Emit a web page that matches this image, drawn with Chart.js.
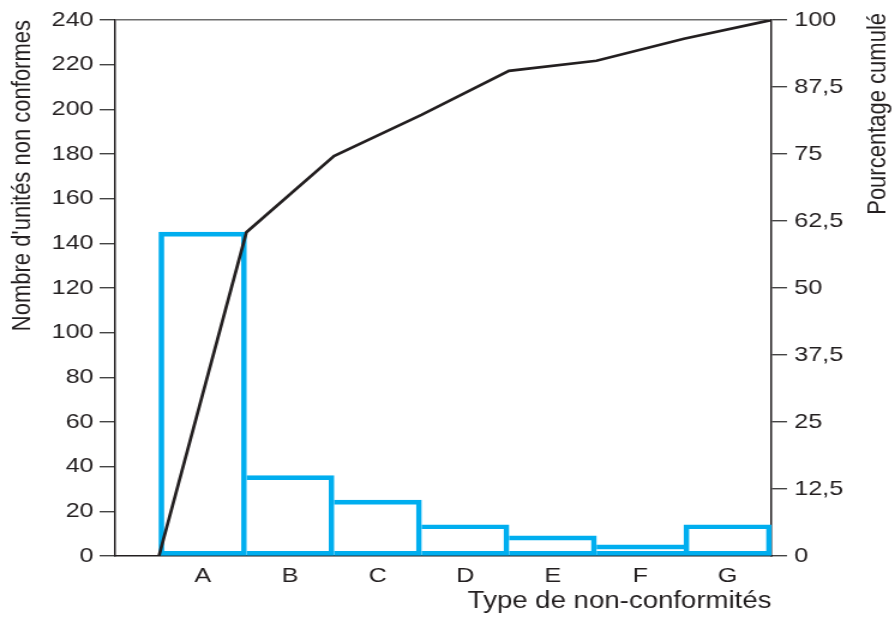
<!DOCTYPE html>
<html>
<head>
<meta charset="utf-8">
<title>Pareto des non-conformités</title>
<script src="https://cdn.jsdelivr.net/npm/chart.js@4.4.1/dist/chart.umd.min.js"></script>
<style>
    html, body { margin: 0; padding: 0; background: #fff; overflow: hidden; }
</style>
</head>
<body>
<!-- the original figure is stretched sideways, so the canvas is drawn narrower and widened by CSS -->
<canvas id="paretoChart" width="746" height="617" style="width:895px;height:617px;display:block"></canvas>
<script>
var categories = ['A', 'B', 'C', 'D', 'E', 'F', 'G'];
var nonConformes = [145, 36, 25, 14, 9, 5, 14];
// pourcentage cumulé, lu aux bords des barres (0 au bord gauche de A)
var cumulPct = [0, 60.4, 74.6, 82.3, 90.5, 92.4, 96.5, 100];
var countTicks = [0, 20, 40, 60, 80, 100, 120, 140, 160, 180, 200, 220, 240];
var pctTicks = [0, 12.5, 25, 37.5, 50, 62.5, 75, 87.5, 100];

var inkColor = '#231f20';
var barColor = '#00aeef';
var fontFamily = '"Liberation Sans", Arial, Helvetica, sans-serif';

Chart.defaults.font.family = fontFamily;
Chart.defaults.color = inkColor;

// titre de l'axe droit, lu de bas en haut comme dans la figure
var rightTitle = {
    id: 'rightTitle',
    afterDraw: function (chart) {
        var c = chart.ctx;
        c.save();
        c.translate(chart.width - 14, chart.chartArea.top - 7);
        c.rotate(-Math.PI / 2);
        c.font = '22px ' + fontFamily;
        c.fillStyle = inkColor;
        c.textAlign = 'right';
        c.textBaseline = 'middle';
        c.fillText('Pourcentage cumulé', 0, 0);
        c.restore();
    }
};

var barData = nonConformes.map(function (v, i) {
    return { x: i + 1, y: v };
});
var lineData = cumulPct.map(function (v, i) {
    return { x: i + 0.5, y: v };
});

// un seul trait entre deux barres voisines : celui de la plus haute
function barBorder(ctx) {
    var i = ctx.dataIndex;
    var v = nonConformes;
    var w = 4;
    if (i === undefined) return w;
    return {
        top: w,
        bottom: w,
        left: (i === 0 || v[i] > v[i - 1]) ? w : 0,
        right: (i === v.length - 1 || v[i] >= v[i + 1]) ? w : 0
    };
}

var ctx = document.getElementById('paretoChart').getContext('2d');

var paretoChart = new Chart(ctx, {
    data: {
        datasets: [{
            type: 'line',
            data: lineData,
            xAxisID: 'x',
            yAxisID: 'y2',
            borderColor: inkColor,
            borderWidth: 2.7,
            pointRadius: 0,
            tension: 0,
            order: 0
        }, {
            type: 'bar',
            data: barData,
            xAxisID: 'x',
            yAxisID: 'y',
            backgroundColor: 'transparent',
            borderColor: barColor,
            borderWidth: barBorder,
            borderSkipped: false,
            barPercentage: 1,
            categoryPercentage: 1,
            order: 1
        }]
    },
    plugins: [rightTitle],
    options: {
        responsive: false,
        animation: false,
        layout: { padding: { top: 20, left: 0, right: 0, bottom: 0 } },
        plugins: {
            legend: { display: false },
            tooltip: { enabled: false }
        },
        scales: {
            x: {
                type: 'linear',
                min: 0,
                max: 7.5,
                offset: false,
                afterBuildTicks: function (scale) {
                    scale.ticks = categories.map(function (c, i) {
                        return { value: i + 1 };
                    });
                },
                afterFit: function (scale) { scale.height = 61; },
                ticks: {
                    autoSkip: false,
                    maxRotation: 0,
                    padding: 0,
                    font: { size: 21 },
                    callback: function (value) { return categories[value - 1]; }
                },
                grid: { display: false },
                border: { display: true, color: inkColor, width: 1.6 },
                title: {
                    display: true,
                    text: 'Type de non-conformités',
                    align: 'end',
                    font: { size: 23 },
                    padding: { top: 0, bottom: 2 }
                }
            },
            y: {
                position: 'left',
                min: 0,
                max: 240,
                afterBuildTicks: function (scale) {
                    scale.ticks = countTicks.map(function (v) { return { value: v }; });
                },
                afterFit: function (scale) { scale.width = 96; },
                ticks: { padding: 5, font: { size: 21 } },
                grid: {
                    drawOnChartArea: true,
                    color: function (c) {
                        return c.tick && c.tick.value === 240 ? '#6d6d6d' : 'transparent';
                    },
                    tickColor: '#444',
                    tickLength: 13,
                    lineWidth: 1.4
                },
                border: { display: true, color: inkColor, width: 1.5 },
                title: {
                    display: true,
                    text: "Nombre d'unités non conformes",
                    align: 'end',
                    font: { size: 22 },
                    padding: { top: 6, bottom: 0 }
                }
            },
            y2: {
                position: 'right',
                min: 0,
                max: 100,
                afterBuildTicks: function (scale) {
                    scale.ticks = pctTicks.map(function (v) { return { value: v }; });
                },
                afterFit: function (scale) { scale.width = 103; },
                ticks: {
                    padding: 6,
                    font: { size: 21 },
                    callback: function (value) { return String(value).replace('.', ','); }
                },
                grid: {
                    drawOnChartArea: false,
                    tickColor: '#444',
                    tickLength: 13,
                    lineWidth: 1.4
                },
                border: { display: true, color: inkColor, width: 1.5 }
            }
        }
    }
});
</script>
</body>
</html>
